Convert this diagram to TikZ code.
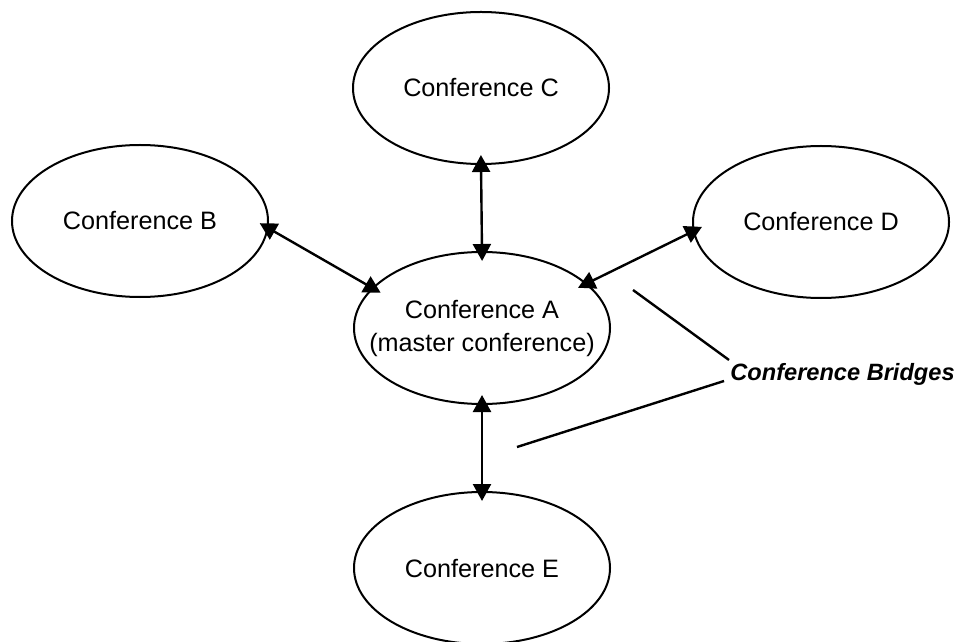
\documentclass[tikz,border=0pt]{standalone}
\usepackage{fontspec}
\setmainfont{Liberation Sans}
\usetikzlibrary{shapes.geometric,arrows.meta}
\begin{document}
\begin{tikzpicture}[x=0.5pt,y=-0.5pt,
  conf/.style={ellipse,draw,line width=1pt,minimum width=128pt,minimum height=76pt,
    inner sep=0pt,outer sep=0pt,font=\fontsize{12.6}{16.5}\selectfont,align=center},
  bridge/.style={line width=1.2pt,
    {Triangle[width=9pt,length=8.5pt]}-{Triangle[width=9pt,length=8.5pt]},
    shorten <=-4.5pt,shorten >=-4.5pt},
  pointer/.style={line width=1.2pt},
  lbl/.style={inner sep=0pt,font=\fontsize{11.8}{14}\selectfont\bfseries\itshape}]
\useasboundingbox (0,0) rectangle (961,641);
\node[conf] (C) at (481,88) {Conference C};
\node[conf] (B) at (140,221) {Conference B};
\node[conf] (D) at (821,222) {Conference D};
\node[conf,inner xsep=-14pt] (A) at (482,328) {Conference A\\(master conference)};
\node[conf] (E) at (482,568) {Conference E};
\draw[bridge] (C.south) -- (A.north);
\draw[bridge] (A.south) -- (E.north);
\draw[bridge] (B.-3) -- (A.160);
\draw[bridge] (D.184) -- (A.23);
\node[lbl,anchor=base west] (L) at (730,380) {Conference Bridges};
\coordinate (p1) at (633,290);
\coordinate (q1) at (729,360);
\coordinate (p2) at (517,447);
\coordinate (q2) at (724,381);
\draw[pointer] (p1) -- (q1);
\draw[pointer] (p2) -- (q2);
\end{tikzpicture}
\end{document}
